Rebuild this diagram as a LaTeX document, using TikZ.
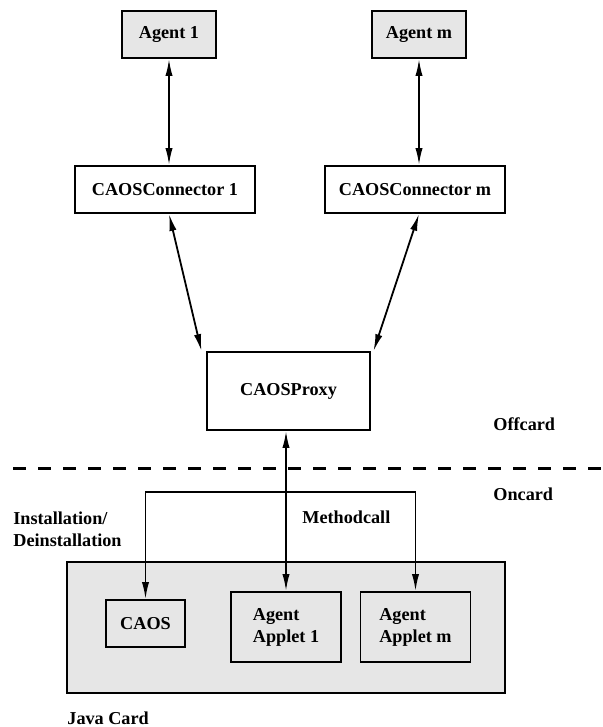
\documentclass[tikz,border=0pt]{standalone}
\usepackage{fontspec}
\setmainfont{Liberation Serif}
\usetikzlibrary{arrows.meta,positioning,calc}
\definecolor{cardgray}{RGB}{230,230,230}

\begin{document}
\begin{tikzpicture}[
    x=0.5pt, y=-0.5pt,
    every node/.style={font=\fontsize{9.1}{11}\selectfont\bfseries},
    box/.style={rectangle, draw, line width=0.9pt, align=center, inner sep=0pt},
    agentbox/.style={box, fill=cardgray, minimum width=47pt, minimum height=23.5pt},
    connbox/.style={box, fill=white, minimum width=90pt, minimum height=23.5pt},
    appletbox/.style={box, fill=cardgray, align=left, minimum width=55pt, minimum height=35pt},
    label/.style={anchor=west, align=left, inner sep=0pt},
    link/.style={line width=0.9pt, {Latex[length=8.5pt,width=3.6pt]}-{Latex[length=8.5pt,width=3.6pt]}},
    down/.style={line width=0.9pt, -{Latex[length=8.5pt,width=3.6pt]}},
]
\useasboundingbox (0, 0) rectangle (603, 727);

% Agents
\node[agentbox] (agent1) at (169, 34.5) {Agent 1};
\node[agentbox] (agentm) at (419, 34.5) {Agent m};

% Connectors
\node[connbox] (conn1) at (165, 189.5) {CAOSConnector 1};
\node[connbox] (connm) at (415, 189.5) {CAOSConnector m};

% Proxy
\node[box, minimum width=81.5pt, minimum height=39pt] (proxy) at (288.5, 391) {CAOSProxy};

% Offcard / Oncard border
\draw[line width=1.5pt, dash pattern=on 6.5pt off 6pt] (13, 468) -- (603, 468);
\node[label] (offcard) at (493, 424) {Offcard};
\node[label] (oncard) at (493, 494) {Oncard};

% Java Card
\node[box, fill=cardgray, minimum width=219pt, minimum height=65.5pt] (card) at (286, 627.5) {};
\node[label, anchor=base west] (cardlabel) at (67, 724) {Java Card};
\node[box, fill=cardgray, minimum width=39.5pt, minimum height=23.5pt] (caos) at (145.5, 623.5) {CAOS};
\node[appletbox] (applet1) at (286, 627) {Agent\\Applet 1};
\node[appletbox] (appletm) at (415.5, 627) {Agent\\Applet m};

% Labels
\node[label] (install) at (13, 529) {Installation/\\Deinstallation};
\node[label] (method) at (302, 517) {Methodcall};

% Links
\draw[link] (agent1.south) -- (agent1.south |- conn1.north);
\draw[link] (agentm.south) -- (agentm.south |- connm.north);
\draw[link] (agent1.south |- conn1.south) -- ([xshift=-43.5]proxy.north);
\draw[link] (agentm.south |- connm.south) -- ([xshift=42.5]proxy.north);
\draw[link] (proxy.south -| applet1.north) -- (applet1.north);

% Installation and method calls
\coordinate (split) at (286, 492);
\draw[down] (split) -| (caos.north);
\draw[down] (split) -| (appletm.north);

\end{tikzpicture}
\end{document}
